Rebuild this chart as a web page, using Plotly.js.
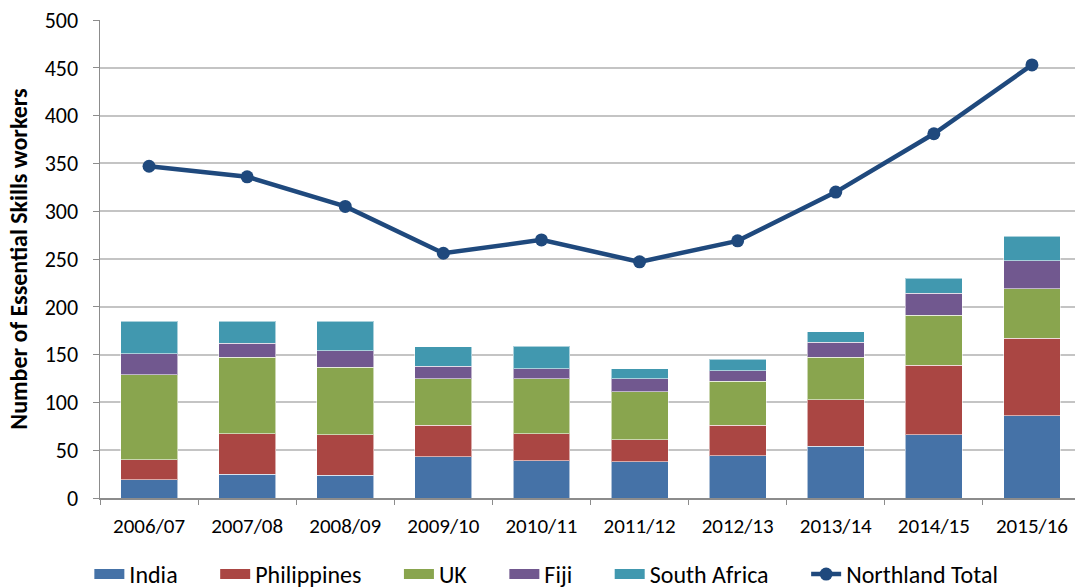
<!DOCTYPE html>
<html>
<head>
<meta charset="utf-8">
<script src="https://cdn.plot.ly/plotly-3.0.1.min.js"></script>
<style>html,body{margin:0;padding:0;background:#fff;overflow:hidden;}#chart{width:1081px;height:588px;}</style>
</head>
<body>
<div id="chart"></div>
<script>
const years = ["2006/07","2007/08","2008/09","2009/10","2010/11","2011/12","2012/13","2013/14","2014/15","2015/16"];
const india = [19, 25, 24, 43, 39, 38, 44, 54, 66, 86];
const philippines = [21, 42, 42, 33, 28, 23, 32, 49, 73, 81];
const uk = [89, 80, 71, 49, 58, 50, 46, 44, 52, 52];
const fiji = [22, 15, 17, 13, 10, 14, 11, 16, 23, 29];
const southAfrica = [34, 23, 31, 20, 24, 10, 12, 11, 16, 26];
const northlandTotal = [347, 336, 305, 256, 270, 247, 269, 320, 381, 453];

const font = "Carlito, Calibri, Lato, 'Liberation Sans', sans-serif";
const barLine = {color: "rgba(255,255,255,0.55)", width: 1};
const pad = "\u00a0\u00a0\u00a0\u00a0\u00a0\u00a0";
const series = [
  ["India", india, "#4572a7"],
  ["Philippines", philippines, "#aa4643"],
  ["UK", uk, "#89a54e"],
  ["Fiji", fiji, "#71588f"],
  ["South Africa", southAfrica, "#4198af"]
];
const data = [];
series.forEach(([name, y, color]) => {
  data.push({type: "bar", name: name, x: years, y: y, legendgroup: name, showlegend: false,
             marker: {color: color, line: barLine}, hoverinfo: "y+name"});
});
// legend keys drawn as thick line swatches (wide rectangles like the reference)
series.forEach(([name, y, color]) => {
  data.push({type: "scatter", mode: "lines", name: name + pad, legendgroup: name,
             x: [null], y: [null], line: {color: color, width: 14}, hoverinfo: "skip"});
});
data.push({type: "scatter", mode: "lines+markers", name: "Northland Total", x: years, y: northlandTotal,
   line: {color: "#1f497d", width: 4.5}, marker: {color: "#1f497d", size: 13}});

const layout = {
  width: 1081, height: 588,
  margin: {l: 100, r: 0, t: 20, b: 90, autoexpand: false},
  barmode: "stack", bargap: 0.42,
  paper_bgcolor: "#fff", plot_bgcolor: "#fff",
  font: {family: font, color: "#000", size: 18},
  showlegend: true,
  legend: {orientation: "h", x: 0.455, xanchor: "center", y: -0.16, yanchor: "middle",
           font: {family: font, size: 24}, traceorder: "normal", itemwidth: 30},
  xaxis: {type: "category", range: [-0.5, 9.5], showline: true, linecolor: "#8c8c8c", linewidth: 1.5, automargin: false,
          ticks: "outside", tickson: "boundaries", ticklen: 5, tickcolor: "#8c8c8c", ticklabelstandoff: 8,
          tickfont: {family: font, size: 21}, showgrid: false, fixedrange: true},
  yaxis: {range: [0, 500], dtick: 50, showline: true, linecolor: "#8c8c8c", linewidth: 1.5, automargin: false,
          ticks: "outside", ticklen: 6, tickcolor: "#8c8c8c", ticklabelstandoff: 10,
          gridcolor: "#c4c4c4", gridwidth: 2, zeroline: false,
          tickfont: {family: font, size: 22},
          title: {text: "<b>Number of Essential Skills workers</b>", font: {family: font, size: 24}, standoff: 10},
          fixedrange: true}
};
Plotly.newPlot("chart", data, layout, {displayModeBar: false, staticPlot: true});
</script>
</body>
</html>
